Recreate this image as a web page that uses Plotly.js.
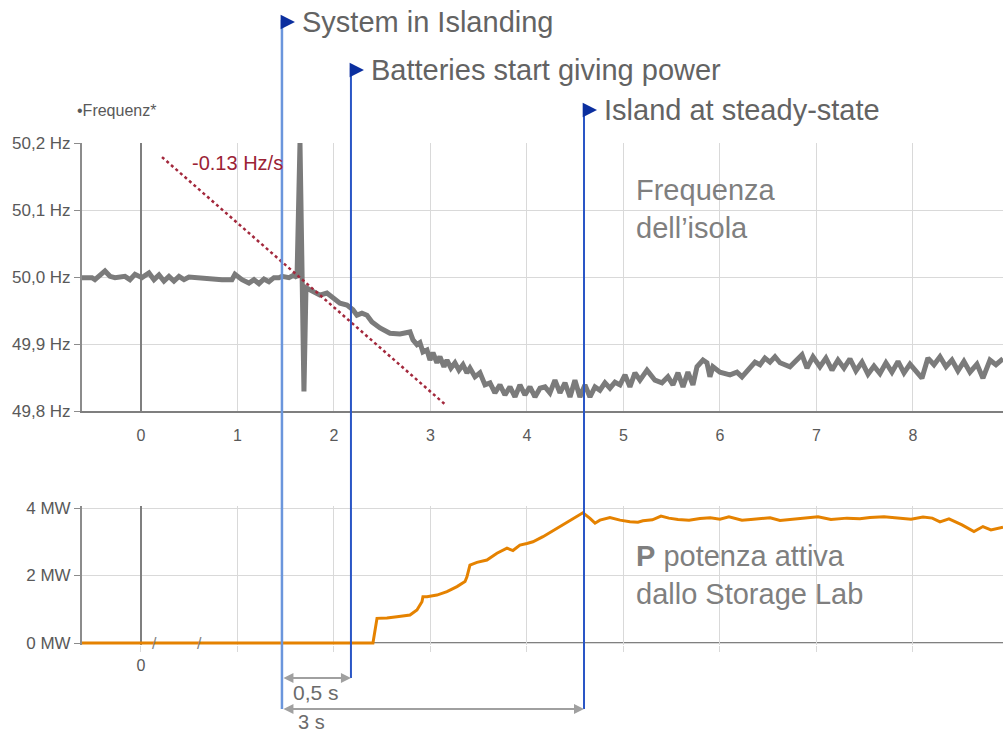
<!DOCTYPE html>
<html>
<head>
<meta charset="utf-8">
<script src="https://cdn.plot.ly/plotly-3.0.1.min.js"></script>
<style>html,body{margin:0;padding:0;background:#fff;}</style>
</head>
<body>
<div id="chart" style="width:1003px;height:734px;"></div>
<script>
// ---------- DATA ----------
const freqTime = [-0.611,-0.508,-0.477,-0.373,-0.321,-0.269,-0.166,-0.114,-0.062,0.010,0.083,0.135,0.187,0.238,0.290,0.342,0.394,0.446,0.497,0.560,0.663,0.705,0.736,0.839,0.943,0.974,1.047,1.119,1.171,1.223,1.275,1.326,1.378,1.430,1.461,1.534,1.585,1.617,
1.648,1.689,1.710,
1.782,1.855,1.927,1.990,2.062,2.135,2.197,2.238,2.290,2.342,2.394,2.477,2.580,2.684,2.756,2.788,2.819,2.860,2.891,2.922,2.964,2.995,3.026,3.067,3.098,3.140,3.171,3.212,3.254,3.295,3.337,3.378,3.409,3.461,3.513,3.565,3.617,3.668,3.720,3.772,3.824,3.876,3.927,3.979,4.031,4.083,4.135,4.187,4.238,
4.290,4.342,4.394,4.446,4.497,4.549,4.601,4.653,4.705,4.756,4.808,4.860,4.912,4.964,5.016,5.067,5.119,5.171,5.244,5.326,5.399,5.461,5.513,5.565,5.617,5.668,5.720,5.762,5.824,5.865,5.896,5.927,6.000,6.104,6.176,6.228,6.290,6.363,6.415,6.466,6.518,6.570,6.622,6.725,6.850,6.902,6.964,
7.036,7.098,7.161,7.223,7.285,7.347,7.409,7.472,7.534,7.596,7.658,7.720,7.782,7.845,7.907,7.969,8.031,8.093,8.155,8.218,8.280,8.342,8.404,8.466,8.528,8.591,8.663,8.725,8.798,8.860,8.933];
const freqHz = [49.999,49.999,49.996,50.009,50.001,49.999,50.001,49.996,50.004,49.999,50.006,49.996,50.003,49.994,50.001,49.994,50.001,49.996,50.000,49.999,49.999,49.997,49.996,49.996,49.996,50.004,49.996,49.991,49.996,49.990,49.997,49.993,49.999,49.999,50.001,49.999,50.003,49.999,
50.200,49.829,49.984,
49.978,49.973,49.976,49.969,49.961,49.958,49.951,49.943,49.946,49.943,49.933,49.924,49.916,49.915,49.916,49.918,49.906,49.899,49.902,49.888,49.891,49.876,49.887,49.872,49.881,49.866,49.876,49.864,49.872,49.861,49.869,49.857,49.864,49.851,49.857,49.839,49.842,49.827,49.839,49.824,49.836,49.821,49.839,49.824,49.836,49.821,49.834,49.836,49.827,
49.846,49.827,49.842,49.821,49.846,49.821,49.839,49.821,49.836,49.831,49.842,49.834,49.843,49.839,49.854,49.836,49.857,49.846,49.861,49.846,49.842,49.851,49.839,49.857,49.836,49.858,49.839,49.866,49.876,49.872,49.851,49.866,49.858,49.854,49.858,49.851,49.861,49.873,49.869,49.879,49.873,49.881,49.872,49.866,49.884,49.864,49.881,
49.866,49.879,49.861,49.876,49.864,49.878,49.860,49.873,49.855,49.867,49.856,49.872,49.858,49.874,49.857,49.870,49.860,49.849,49.879,49.869,49.881,49.866,49.876,49.860,49.874,49.858,49.870,49.849,49.876,49.869,49.878];

const powerTime = [-0.611,2.404,2.446,2.549,2.653,2.788,2.860,2.912,2.922,2.964,3.067,3.171,3.275,3.358,3.378,3.409,3.482,3.585,3.689,3.793,3.855,3.927,4.000,4.062,4.166,4.342,4.477,4.580,4.653,4.705,4.756,4.860,4.964,5.067,5.150,5.202,5.300,5.389,5.470,5.565,5.680,5.793,5.900,6.000,6.093,6.160,6.228,6.320,6.415,6.520,6.622,6.750,6.881,6.950,7.016,7.150,7.316,7.450,7.554,7.700,7.865,7.980,8.104,8.200,8.280,8.373,8.508,8.632,8.725,8.808,8.933];
const powerMW = [0,0,0.73,0.74,0.78,0.83,0.98,1.22,1.37,1.37,1.42,1.52,1.67,1.82,1.96,2.31,2.39,2.46,2.66,2.81,2.74,2.90,2.95,3.00,3.15,3.45,3.69,3.86,3.69,3.55,3.64,3.72,3.64,3.59,3.58,3.62,3.65,3.76,3.70,3.66,3.64,3.69,3.71,3.67,3.74,3.70,3.64,3.66,3.68,3.71,3.63,3.66,3.69,3.72,3.74,3.66,3.70,3.68,3.72,3.74,3.69,3.67,3.73,3.70,3.59,3.68,3.50,3.30,3.45,3.35,3.43];

const xTickVals = [0,1,2,3,4,5,6,7,8,9];
const xTickText2 = ['0','','','','','','','','',''];
const hzTicks = [49.8,49.9,50.0,50.1,50.2];
const hzTickText = ['49,8 Hz','49,9 Hz','50,0 Hz','50,1 Hz','50,2 Hz'];
const mwTicks = [0,2,4];
const mwTickText = ['0 MW','2 MW','4 MW'];

const tIsland = 1.461, tBatteries = 2.176, tSteady = 4.591;
const slopeStart = [0.218, 50.179], slopeEnd = [3.150, 49.810];
const breakMarks = [0.145, 0.611];

// ---------- STYLE ----------
const FONT = 'Liberation Sans, Arial, sans-serif';
const GRID = '#d9d9d9';
const AX = '#8c8c8c';
const TXT = '#595959';
const BLUE1 = '#6b96dc', BLUE2 = '#2a56c6', NAVY = '#0b2f9f';

const traces = [
  {x: freqTime, y: freqHz, xaxis:'x', yaxis:'y', type:'scatter', mode:'lines',
   line:{color:'#7b7b7b', width:5}, hoverinfo:'skip'},
  {x: powerTime, y: powerMW, xaxis:'x2', yaxis:'y2', type:'scatter', mode:'lines',
   line:{color:'#e58200', width:3}, hoverinfo:'skip'}
];

const xRange = [-0.611, 8.933];
const commonX = {
  range: xRange, tickvals: xTickVals, showgrid:true, gridcolor:GRID, gridwidth:1,
  zeroline:true, zerolinecolor:'#7f7f7f', zerolinewidth:2,
  tickfont:{family:FONT, size:16, color:TXT}, fixedrange:true, automargin:false
};

function py(p){ return (734 - p) / 734; }

const shapes = [
  {type:'line', xref:'paper', yref:'y2', x0:0, x1:1, y0:0, y1:0, line:{color:'#808080', width:2}, layer:'below'},
  {type:'line', xref:'x', yref:'y', x0:slopeStart[0], y0:slopeStart[1], x1:slopeEnd[0], y1:slopeEnd[1],
   line:{color:'#a3283c', width:2.5, dash:'dot'}},
  {type:'line', xref:'x', yref:'paper', x0:tIsland, x1:tIsland, y0:py(709), y1:py(20), line:{color:BLUE1, width:2.5}},
  {type:'line', xref:'x', yref:'paper', x0:tBatteries, x1:tBatteries, y0:py(678), y1:py(68), line:{color:BLUE2, width:2}},
  {type:'line', xref:'x', yref:'paper', x0:tSteady, x1:tSteady, y0:py(709), y1:py(108), line:{color:BLUE2, width:2}}
];

function eventArrow(t, top){
  return {x:t, y:py(top), xref:'x', yref:'paper', text:'', showarrow:true,
          ax:-13, ay:0, xshift:13, arrowhead:2, arrowsize:1.3, arrowwidth:2.2, arrowcolor:NAVY};
}
function eventText(t, top, txt){
  return {x:t, y:py(top), xref:'x', yref:'paper', text:txt, showarrow:false,
          xanchor:'left', yanchor:'middle', xshift:18,
          font:{family:FONT, size:29, color:'#636363'}};
}

const annotations = [
  eventArrow(tIsland, 22), eventText(tIsland, 22, 'System in Islanding'),
  eventArrow(tBatteries, 70), eventText(tBatteries, 70, 'Batteries start giving power'),
  eventArrow(tSteady, 110), eventText(tSteady, 110, 'Island at steady-state'),
  {x:-0.008, y:py(110), xref:'paper', yref:'paper', text:'•Frequenz*', showarrow:false,
   xanchor:'left', yanchor:'middle', font:{family:FONT, size:16, color:TXT}},
  {x:0.508, y:50.170, xref:'x', yref:'y', text:'-0.13 Hz/s', showarrow:false,
   xanchor:'left', yanchor:'middle', font:{family:FONT, size:20, color:'#9b2335'}},
  {x:5.105, y:py(209), xref:'x', yref:'paper', text:'Frequenza<br>dell’isola', showarrow:false,
   xanchor:'left', yanchor:'middle', align:'left', font:{family:FONT, size:29, color:'#7f7f7f'}},
  {x:5.105, y:py(575), xref:'x', yref:'paper', text:'<b>P</b> potenza attiva<br>dallo Storage Lab', showarrow:false,
   xanchor:'left', yanchor:'middle', align:'left', font:{family:FONT, size:29, color:'#7f7f7f'}},
  {x:breakMarks[0], y:0, xref:'x2', yref:'y2', text:'/', showarrow:false, font:{family:FONT, size:16, color:'#7f7f7f'}},
  {x:breakMarks[1], y:0, xref:'x2', yref:'y2', text:'/', showarrow:false, font:{family:FONT, size:16, color:'#7f7f7f'}},
  {x:tBatteries, y:py(678), xref:'x', yref:'paper', ax:tIsland, axref:'x', ay:0, ayref:'pixel', text:'',
   showarrow:true, arrowside:'end+start', arrowhead:2, arrowsize:1, arrowwidth:2, arrowcolor:'#a0a0a0'},
  {x:tSteady, y:py(709), xref:'x', yref:'paper', ax:tIsland, axref:'x', ay:0, ayref:'pixel', text:'',
   showarrow:true, arrowside:'end+start', arrowhead:2, arrowsize:1, arrowwidth:2, arrowcolor:'#a0a0a0'},
  {x:(tIsland + tBatteries)/2, y:py(692), xref:'x', yref:'paper', text:'0,5 s', showarrow:false,
   xanchor:'center', yanchor:'middle', font:{family:FONT, size:21, color:'#6b6b6b'}},
  {x:(tIsland + tBatteries)/2 - 0.05, y:py(722), xref:'x', yref:'paper', text:'3 s', showarrow:false,
   xanchor:'center', yanchor:'middle', font:{family:FONT, size:20, color:'#6b6b6b'}}
];

const layout = {
  width:1003, height:734,
  margin:{l:82, r:0, t:0, b:0, pad:0},
  paper_bgcolor:'#ffffff', plot_bgcolor:'#ffffff',
  separators:',.',
  showlegend:false,
  hovermode:false,
  font:{family:FONT, color:TXT},
  xaxis: Object.assign({}, commonX, {
    anchor:'y', domain:[0,1],
    showline:true, linecolor:'#7f7f7f', linewidth:2,
    ticks:'outside', ticklen:9, tickcolor:'rgba(0,0,0,0)'
  }),
  yaxis: {
    anchor:'x', domain:[py(411), py(143)], range:[49.8, 50.2],
    tickmode:'array', tickvals:hzTicks, ticktext:hzTickText,
    showgrid:true, gridcolor:GRID, zeroline:false,
    showline:true, linecolor:AX, linewidth:2,
    ticks:'outside', ticklen:6, tickcolor:AX, tickwidth:1,
    tickfont:{family:FONT, size:17, color:TXT}, fixedrange:true, automargin:false
  },
  xaxis2: Object.assign({}, commonX, {
    anchor:'y2', domain:[0,1], tickmode:'array', tickvals:xTickVals, ticktext:xTickText2,
    showline:false, ticks:'outside', ticklen:6, tickcolor:GRID
  }),
  yaxis2: {
    anchor:'x2', domain:[py(645), py(506)], range:[-0.0593, 4.0593],
    tickmode:'array', tickvals:mwTicks, ticktext:mwTickText,
    showgrid:true, gridcolor:GRID, zeroline:false,
    showline:true, linecolor:AX, linewidth:2,
    ticks:'outside', ticklen:6, tickcolor:AX, tickwidth:1,
    tickfont:{family:FONT, size:17, color:TXT}, fixedrange:true, automargin:false
  },
  shapes: shapes,
  annotations: annotations
};

Plotly.newPlot('chart', traces, layout, {staticPlot:true, displayModeBar:false});
</script>
</body>
</html>
